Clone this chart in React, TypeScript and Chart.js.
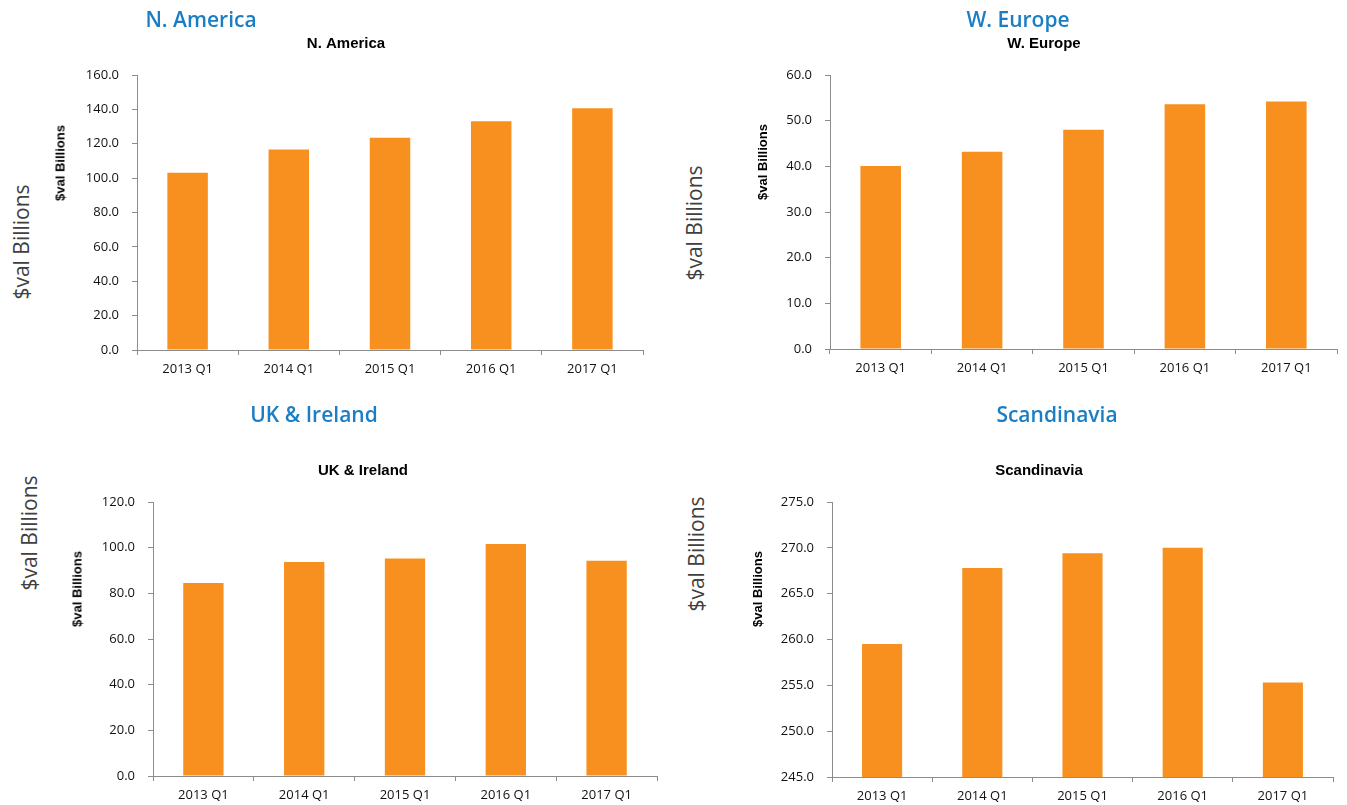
import React, { useEffect, useRef } from "react";
import { Chart, registerables } from "chart.js";

Chart.register(...registerables);

const categories = ["2013 Q1", "2014 Q1", "2015 Q1", "2016 Q1", "2017 Q1"];
const naValues = [103.2, 116.6, 123.5, 133.1, 140.7];
const weValues = [40.1, 43.2, 48.0, 53.6, 54.2];
const ukValues = [84.5, 93.7, 95.3, 101.6, 94.3];
const scValues = [259.5, 267.8, 269.4, 270.0, 255.3];

const naTicks = { min: 0, max: 160, step: 20 };
const weTicks = { min: 0, max: 60, step: 10 };
const ukTicks = { min: 0, max: 120, step: 20 };
const scTicks = { min: 245, max: 275, step: 5 };

const BAR = "#F7901E";
const AXIS = "#8c8c8c";
const BLUE = "#1a7ec4";
const TICK_FONT = "'Open Sans', 'Noto Sans', sans-serif";

type PanelProps = {
  title: string;
  values: number[];
  ticks: { min: number; max: number; step: number };
  left: number;
  top: number;
  width: number;
  height: number;
  yWidth: number;
  padTop: number;
  padBottom: number;
};

function Panel(p: PanelProps) {
  const ref = useRef<HTMLCanvasElement | null>(null);
  useEffect(() => {
    if (!ref.current) return;
    const chart = new Chart(ref.current, {
      type: "bar",
      data: {
        labels: categories,
        datasets: [
          {
            data: p.values,
            backgroundColor: BAR,
            borderWidth: 0,
            categoryPercentage: 1,
            barPercentage: 0.4,
          },
        ],
      },
      options: {
        animation: false,
        responsive: false,
        maintainAspectRatio: false,
        layout: { padding: { left: 0, right: 6, top: 0, bottom: 0 } },
        plugins: {
          legend: { display: false },
          tooltip: { enabled: false },
          title: {
            display: true,
            text: p.title,
            color: "#000",
            font: { family: "'Liberation Sans', Arial, sans-serif", size: 15, weight: "bold", lineHeight: 1.2 },
            padding: { top: p.padTop, bottom: p.padBottom },
          },
        },
        scales: {
          x: {
            grid: {
              display: true,
              drawOnChartArea: false,
              offset: true,
              tickLength: 5,
              color: AXIS,
            },
            border: { display: true, color: AXIS, width: 1 },
            ticks: {
              color: "#111",
              font: { family: TICK_FONT, size: 13 },
              padding: 6,
              maxRotation: 0,
            },
            afterFit: (scale: any) => {
              scale.height = 26;
            },
          },
          y: {
            min: p.ticks.min,
            max: p.ticks.max,
            grid: {
              display: true,
              drawOnChartArea: false,
              tickLength: 5,
              color: AXIS,
            },
            border: { display: true, color: AXIS, width: 1 },
            ticks: {
              stepSize: p.ticks.step,
              color: "#111",
              font: { family: TICK_FONT, size: 13 },
              padding: 13,
              callback: (v: any) => Number(v).toFixed(1),
            },
            afterFit: (scale: any) => {
              scale.width = p.yWidth;
            },
          },
        },
      },
    });
    return () => chart.destroy();
  }, []);
  return (
    <canvas
      ref={ref}
      width={p.width}
      height={p.height}
      style={{ position: "absolute", left: p.left, top: p.top, width: p.width, height: p.height }}
    />
  );
}

const blueStyle = (cx: number, cy: number): React.CSSProperties => ({
  position: "absolute",
  left: cx,
  top: cy,
  transform: "translate(-50%, -50%)",
  color: BLUE,
  fontFamily: "'Open Sans', sans-serif",
  fontWeight: 600,
  fontSize: 21,
  whiteSpace: "nowrap",
  lineHeight: 1,
});

const bigStyle = (cx: number, cy: number): React.CSSProperties => ({
  position: "absolute",
  left: cx,
  top: cy,
  transform: "translate(-50%, -50%) rotate(-90deg)",
  color: "#404040",
  fontFamily: "'Open Sans', sans-serif",
  fontSize: 21,
  whiteSpace: "nowrap",
  lineHeight: 1,
});

const smallStyle = (cx: number, cy: number): React.CSSProperties => ({
  position: "absolute",
  left: cx,
  top: cy,
  transform: "translate(-50%, -50%) rotate(-90deg)",
  color: "#000",
  fontFamily: "'Liberation Sans', Arial, sans-serif",
  fontWeight: "bold",
  fontSize: 13,
  whiteSpace: "nowrap",
  lineHeight: 1,
});

export default function App() {
  return (
    <div
      style={{
        position: "absolute",
        left: 0,
        top: 0,
        width: 1347,
        height: 805,
        overflow: "hidden",
        background: "#fff",
      }}
    >
      <Panel title="N. America" values={naValues} ticks={naTicks} left={49} top={0} width={600} height={376} yWidth={88} padTop={35} padBottom={22} />
      <Panel title="W. Europe" values={weValues} ticks={weTicks} left={751} top={0} width={592} height={375} yWidth={79} padTop={35} padBottom={22} />
      <Panel title="UK & Ireland" values={ukValues} ticks={ukTicks} left={69} top={395} width={594} height={407} yWidth={84} padTop={67} padBottom={22} />
      <Panel title="Scandinavia" values={scValues} ticks={scTicks} left={745} top={395} width={594} height={408} yWidth={87} padTop={67} padBottom={22} />

      <div style={blueStyle(201, 19)}>N. America</div>
      <div style={blueStyle(1018, 19)}>W. Europe</div>
      <div style={blueStyle(314, 414)}>UK &amp; Ireland</div>
      <div style={blueStyle(1057, 414)}>Scandinavia</div>

      <div style={bigStyle(21, 242)}>$val Billions</div>
      <div style={bigStyle(694, 223)}>$val Billions</div>
      <div style={bigStyle(29, 533)}>$val Billions</div>
      <div style={bigStyle(696, 554)}>$val Billions</div>

      <div style={smallStyle(60, 163)}>$val Billions</div>
      <div style={smallStyle(762, 162)}>$val Billions</div>
      <div style={smallStyle(77, 589)}>$val Billions</div>
      <div style={smallStyle(757, 589)}>$val Billions</div>
    </div>
  );
}
